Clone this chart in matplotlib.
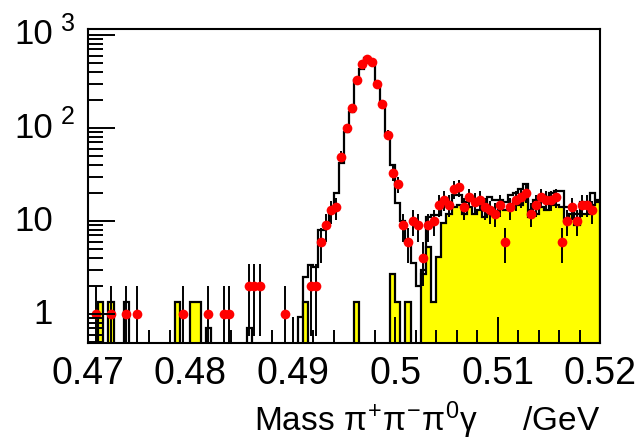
import numpy as np
import matplotlib
matplotlib.use("Agg")
import matplotlib.pyplot as plt
from matplotlib.ticker import MultipleLocator, LogLocator, FixedLocator, NullFormatter

plt.rcParams['font.family'] = ['Liberation Sans', 'DejaVu Sans']
plt.rcParams['mathtext.fontset'] = 'custom'
plt.rcParams['mathtext.rm'] = 'Liberation Sans'
plt.rcParams['mathtext.it'] = 'Liberation Sans'
plt.rcParams['mathtext.bf'] = 'Liberation Sans:bold'

# ── binning: 100 bins from 0.47 to 0.52 GeV ──────────────────────
x_min, x_max, n_bins = 0.47, 0.52, 100

# data (red points), counts per bin
data_counts = [
    0, 1, 0, 0, 1, 0, 0, 1, 0, 1,
    0, 0, 0, 0, 0, 0, 0, 0, 1, 0,
    0, 0, 0, 1, 0, 0, 1, 1, 0, 0,
    0, 2, 2, 2, 0, 0, 0, 0, 1, 0,
    0, 0, 0, 2, 2, 6, 9, 13, 14, 49,
    99, 163, 328, 485, 548, 509, 297, 180, 85, 33,
    25, 9, 6, 10, 9, 4, 9, 10, 15, 17,
    15, 22, 23, 14, 18, 16, 17, 14, 13, 12,
    15, 6, 14, 17, 18, 20, 12, 15, 18, 17,
    17, 18, 6, 10, 14, 10, 15, 15, 13, 0,
]

# total MC (black line)
mc_total = [
    0, 0, 0, 0, 0, 0, 0, 1.36, 0, 0,
    0, 0, 0, 0, 0, 0, 0, 0, 0, 0,
    0, 0, 0, 0.7, 0, 0, 0, 0, 0, 0,
    0, 0.7, 0, 0, 0, 0, 0, 0, 0, 0,
    0, 0.93, 2.5, 3.4, 3.2, 8, 9, 13, 20, 42,
    90, 150, 330, 430, 560, 520, 305, 186, 88, 40,
    15.5, 10, 6, 3.5, 2.0, 3.0, 11, 11.5, 11.5, 15,
    16, 19, 19, 16, 18, 17, 16, 15, 18, 17,
    17, 16, 19, 20, 22, 25, 13, 17, 19, 18,
    20, 21, 21, 14, 14, 12, 16, 16, 20, 17,
]

# background MC (yellow)
bkg_mc = [
    0, 0, 1.36, 0, 1.36, 0, 0, 0, 0, 0,
    0, 0, 0, 0, 0, 0, 0, 1.36, 0, 0,
    1.36, 1.36, 0, 0, 0, 0, 0, 0, 0, 0,
    0, 0, 0, 0, 0, 0, 0, 0, 0, 0,
    0, 0, 1.36, 0, 0, 0, 0, 0, 0, 0,
    0, 0, 1.36, 0, 0, 0, 0, 0, 0, 2.7,
    1.36, 0, 1.36, 0, 0, 2.7, 5.3, 1.36, 4.1, 9.5,
    12, 14, 15, 12, 14, 12, 13, 11, 12, 12,
    14, 13, 15, 16, 15, 17, 11, 12, 14, 13,
    15, 15, 14, 10, 12, 9, 12, 12, 15, 16,
]

x_ticks = [0.47, 0.48, 0.49, 0.5, 0.51, 0.52]
x_tick_labels = ["0.47", "0.48", "0.49", "0.5", "0.51", "0.52"]
y_decades = [1, 10, 100, 1000]
y_base_labels = ["1", "10", "10", "10"]
y_sup_labels = ["", "", "2", "3"]

FLOOR = 1e-3

edges = np.linspace(x_min, x_max, n_bins + 1)
centers = 0.5 * (edges[:-1] + edges[1:])

fig = plt.figure(figsize=(6.43, 4.44), dpi=100, facecolor='white')
ax = fig.add_axes([88 / 643, 101 / 444, 512 / 643, 314 / 444])
ax.set_yscale('log')
ax.set_xlim(x_min, x_max)
ax.set_ylim(0.488, 1160)

mc = np.array(mc_total, float)
mc[mc <= 0] = FLOOR
bkg = np.array(bkg_mc, float)
bkg[bkg <= 0] = FLOOR

ax.stairs(mc, edges, baseline=FLOOR, color='black', lw=1.6, zorder=1.2)
ax.stairs(bkg, edges, baseline=FLOOR, fill=True, color='#ffff00', zorder=1.3)
ax.stairs(bkg, edges, baseline=FLOOR, color='black', lw=1.6, zorder=1.4)

n = np.array(data_counts, float)
m = n > 0
err = np.sqrt(n)
lo = np.where(n - err > 0, n - err, FLOOR)
ax.vlines(centers[m], lo[m], (n + err)[m], color='black', lw=1.4, zorder=1.6)
ax.plot(centers[m], n[m], 'o', color='#ff0000', ms=7, mew=0, zorder=1.7)

# ── axes styling (ROOT look) ─────────────────────────────────────
ax.set_axisbelow(False)
for s in ax.spines.values():
    s.set_linewidth(1.5)

ax.set_xticks(x_ticks, x_tick_labels)
ax.xaxis.set_minor_locator(MultipleLocator(0.002))
ax.tick_params(axis='x', which='major', direction='in', length=18.7, width=1.4,
               labelsize=27, pad=9)
ax.tick_params(axis='x', which='minor', direction='in', length=9.4, width=1.4)

ax.yaxis.set_major_locator(FixedLocator(y_decades))
ax.yaxis.set_minor_locator(LogLocator(base=10, subs=np.arange(2, 10)))
ax.yaxis.set_minor_formatter(NullFormatter())
ax.tick_params(axis='y', which='major', direction='in', length=19.4, width=1.4,
               labelleft=False)
ax.tick_params(axis='y', which='minor', direction='in', length=10.8, width=1.4)

for v, base, sup in zip(y_decades, y_base_labels, y_sup_labels):
    ax.annotate(base, xy=(0, v), xycoords=('axes fraction', 'data'),
                xytext=(-35, 0), textcoords='offset pixels',
                ha='right', va='center', fontsize=25)
    if sup:
        ax.annotate(sup, xy=(0, v), xycoords=('axes fraction', 'data'),
                    xytext=(-27, 11), textcoords='offset pixels',
                    ha='left', va='center', fontsize=18)

fig.text(600 / 643, 1 - 431 / 444,
         r"Mass $\pi^{+}\pi^{-}\pi^{0}\gamma$     /GeV",
         ha='right', va='baseline', fontsize=24)

fig.savefig("out.png", dpi=100, facecolor='white')
